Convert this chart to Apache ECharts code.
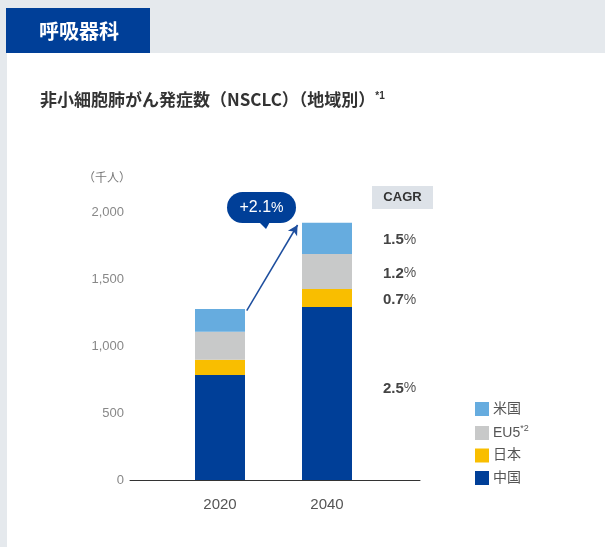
<!DOCTYPE html>
<html>
<head>
<meta charset="utf-8">
<script src="https://cdn.jsdelivr.net/npm/echarts@6/dist/echarts.min.js"></script>
<style>
  html, body { margin: 0; padding: 0; background: #e5e9ed; }
  #chart { width: 605px; height: 547px; }
</style>
</head>
<body>
<div id="chart"></div>
<script>
// years on the x axis
const years = ['2020', '2040'];
// incidence by region (thousand people)
const china = [783, 1291];
const japan = [115, 134];
const eu5 = [209, 262];
const usa = [169, 233];
// CAGR 2020 -> 2040 per region
const cagr = { '中国': '2.5', '日本': '0.7', 'EU5': '1.2', '米国': '1.5' };
const totalCagr = '+2.1';
const yTicks = [0, 500, 1000, 1500, 2000];

const FONT = '"Liberation Sans", "Noto Sans CJK JP", sans-serif';
const JP = '"Noto Sans CJK JP", "Liberation Sans", sans-serif';

const totals = years.map((_, i) => china[i] + japan[i] + eu5[i] + usa[i]);

const chart = echarts.init(document.getElementById('chart'));

function seriesFor(name, values, color, labelOffset) {
  return {
    name,
    type: 'bar',
    stack: 'total',
    barWidth: 50,
    itemStyle: { color },
    data: values.map((v, i) => {
      const item = { value: v };
      if (i === 1) {
        item.label = {
          show: true,
          position: 'right',
          distance: 31,
          offset: labelOffset || [0, 2],
          formatter: () => '{n|' + cagr[name] + '}{p|%}',
          rich: {
            n: { fontFamily: FONT, fontSize: 15, fontWeight: 'bold', color: '#444' },
            p: { fontFamily: FONT, fontSize: 14, color: '#555' }
          }
        };
      }
      return item;
    })
  };
}

chart.setOption({
  animation: false,
  grid: [
    { left: 166.5, right: 224.5, top: 212, bottom: 67 },
    { left: 130, right: 185, top: 212, bottom: 67 }
  ],
  xAxis: [
    {
      type: 'category',
      data: years,
      gridIndex: 0,
      axisLine: { show: false },
      axisTick: { show: false },
      axisLabel: { fontFamily: FONT, fontSize: 15, color: '#555', margin: 17 }
    },
    {
      // year scale spanning the full baseline, used for the baseline and the arrow
      type: 'value',
      gridIndex: 1,
      min: 2003.18,
      max: 2057.38,
      axisLine: { show: true, lineStyle: { color: '#333', width: 1 } },
      axisTick: { show: false },
      axisLabel: { show: false },
      splitLine: { show: false }
    }
  ],
  yAxis: [
    {
      type: 'value',
      gridIndex: 0,
      min: 0,
      max: 2000,
      interval: 500,
      axisLine: { show: false },
      axisTick: { show: false },
      splitLine: { show: false },
      axisLabel: {
        formatter: (v) => yTicks.includes(v) ? v.toLocaleString('en-US') : '',
        fontFamily: FONT,
        fontSize: 13,
        color: '#888',
        margin: 42.5
      }
    },
    { type: 'value', gridIndex: 1, min: 0, max: 2000, show: false }
  ],
  legend: {
    orient: 'vertical',
    left: 470,
    top: 397,
    icon: 'rect',
    itemWidth: 14,
    itemHeight: 14,
    itemGap: 8.5,
    data: ['米国', 'EU5', '日本', '中国'],
    formatter: (n) => n === 'EU5' ? 'EU5{sup|*2}' : n,
    textStyle: {
      fontFamily: FONT,
      fontSize: 14,
      color: '#555',
      padding: [0, 0, 0, -1],
      rich: { sup: { fontFamily: FONT, fontSize: 9, color: '#555', padding: [0, 0, 8, 0] } }
    },
    selectedMode: false
  },
  graphic: [
    { type: 'rect', left: 7, top: 53, shape: { width: 598, height: 494 }, style: { fill: '#ffffff' }, z: -10 },
    { type: 'rect', left: 6, top: 8, shape: { width: 144, height: 45 }, style: { fill: '#003f98' }, z: -5 },
    { type: 'text', left: 39, top: 21, style: { text: '呼吸器科', fill: '#fff', font: 'bold 20px ' + JP } },
    {
      type: 'text', left: 40, top: 91,
      style: {
        text: '非小細胞肺がん発症数（NSCLC）（地域別）{s|*1}',
        fill: '#333',
        font: 'bold 17px ' + JP,
        rich: { s: { fontSize: 10, fontWeight: 'bold', fill: '#333', padding: [0, 0, 8, 0] } }
      }
    },
    { type: 'text', left: 83, top: 171, style: { text: '（千人）', fill: '#777', font: '12px ' + JP } },
    { type: 'rect', left: 372, top: 186, shape: { width: 61, height: 23 }, style: { fill: '#dde2e8' } },
    { type: 'text', x: 402.5, y: 197.5, style: { text: 'CAGR', fill: '#333', font: 'bold 13px ' + FONT, align: 'center', verticalAlign: 'middle' } },
    {
      type: 'group', left: 227, top: 192,
      children: [
        { type: 'rect', shape: { x: 0, y: 0, width: 69, height: 31, r: 15.5 }, style: { fill: '#003f98' } },
        { type: 'polygon', shape: { points: [[30, 28], [44, 28], [39, 37]] }, style: { fill: '#003f98' } },
        {
          type: 'text', x: 34.5, y: 16,
          style: {
            text: '{n|' + totalCagr + '}{p|%}',
            align: 'center', verticalAlign: 'middle',
            rich: {
              n: { fontFamily: FONT, fontSize: 16, fill: '#fff' },
              p: { fontFamily: FONT, fontSize: 14, fill: '#fff' }
            }
          }
        }
      ]
    }
  ],
  series: [
    seriesFor('中国', china, '#003f98', [0, -5]),
    seriesFor('日本', japan, '#f9be00'),
    seriesFor('EU5', eu5, '#c8c9c9'),
    seriesFor('米国', usa, '#66acdf'),
    {
      // growth arrow from the 2020 total to the 2040 total
      name: 'growth',
      type: 'line',
      xAxisIndex: 1,
      yAxisIndex: 1,
      data: [],
      markLine: {
        silent: true,
        symbol: ['none', 'arrow'],
        symbolSize: [8, 10],
        label: { show: false },
        lineStyle: { color: '#1d4e9e', width: 1.5, type: 'solid' },
        data: [[
          { coord: [2025, totals[0] - 12] },
          { coord: [2034.5, totals[1] - 17] }
        ]]
      }
    }
  ]
});
</script>
</body>
</html>
